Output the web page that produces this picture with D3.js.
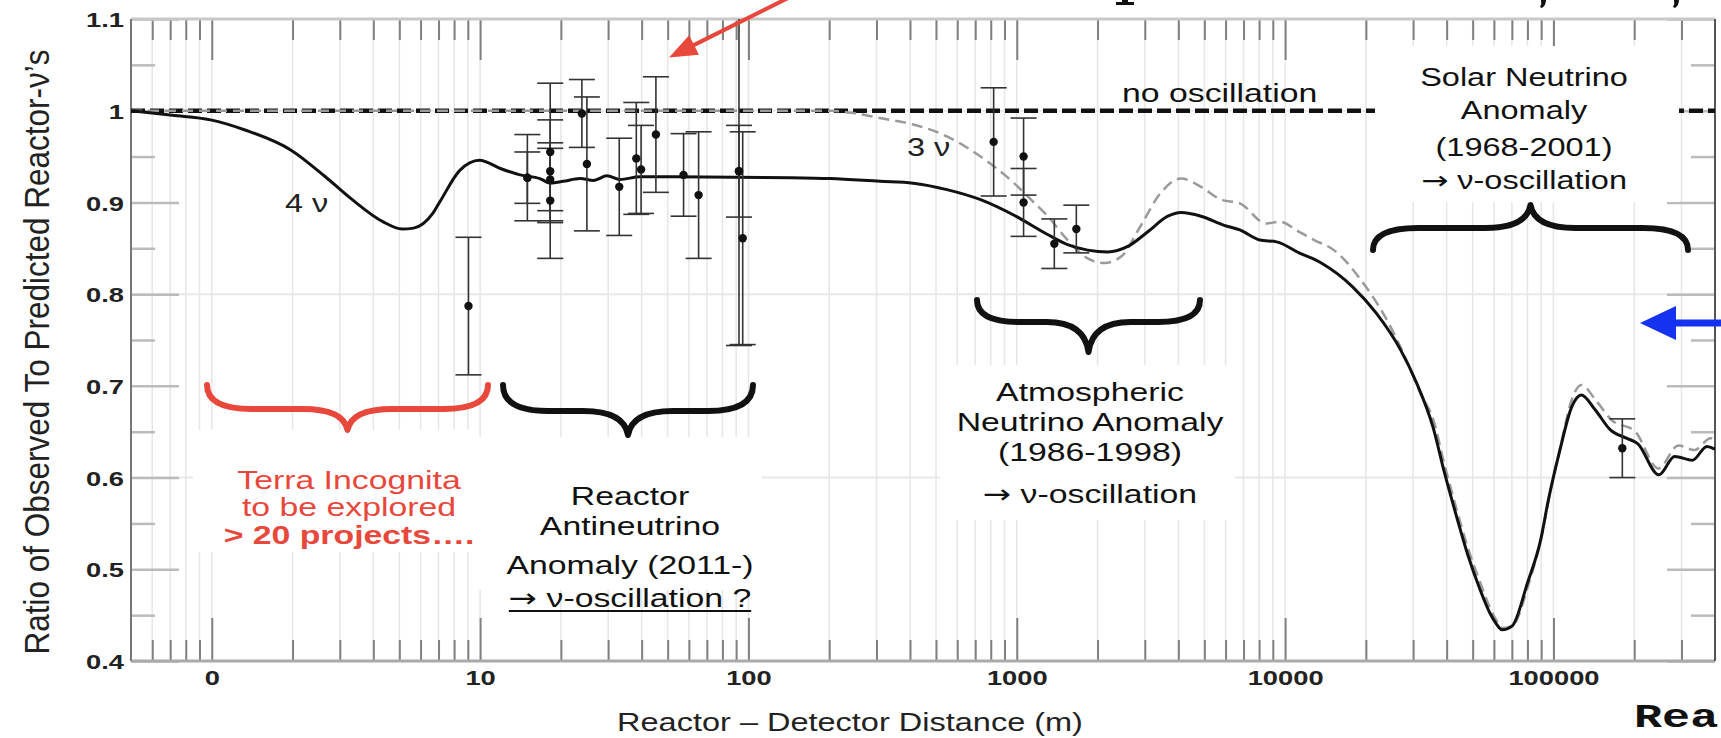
<!DOCTYPE html>
<html><head><meta charset="utf-8">
<script src="https://cdn.jsdelivr.net/npm/d3@7"></script>
<style>html,body{margin:0;padding:0;background:#fff;overflow:hidden}</style>
</head><body><svg id="c" width="1721" height="738"></svg>
<script>
// ---------------- data ----------------
const xTickValues = [1, 10, 100, 1000, 10000, 100000];
const xTickLabels = ["0", "10", "100", "1000", "10000", "100000"];
const yTickValues = [0.4, 0.5, 0.6, 0.7, 0.8, 0.9, 1.0, 1.1];
const yTickLabels = ["0.4", "0.5", "0.6", "0.7", "0.8", "0.9", "1", "1.1"];

// 4-neutrino (solid) curve
const curve4Dist = [0.5, 0.713, 0.99, 1.33, 1.975, 2.65, 3.34, 4.34, 5.12, 5.65, 6.66, 7.09, 8.4, 9.95, 11.9, 14.1, 16.7, 18.3, 20.4, 23.6, 26.5, 29.7, 33.2, 39.5, 52.6, 143, 202, 309, 411, 549, 733, 977, 1303, 1546, 1837, 2183, 2592, 3078, 3655, 4091, 4860, 5930, 6780, 8050, 9300, 11270, 13640, 17850, 21900, 26970, 30920, 35580, 39280, 43500, 48040, 53260, 58020, 61090, 64340, 70100, 80000, 89600, 95800, 105700, 117000, 127000, 143000, 163000, 187000, 206000, 247000, 283000, 330000, 373000, 406000];
const curve4Ratio = [1.0, 0.995, 0.990, 0.979, 0.957, 0.928, 0.903, 0.879, 0.871, 0.872, 0.888, 0.901, 0.935, 0.946, 0.937, 0.930, 0.926, 0.921, 0.923, 0.926, 0.924, 0.929, 0.925, 0.928, 0.928, 0.927, 0.926, 0.923, 0.921, 0.914, 0.903, 0.886, 0.865, 0.854, 0.848, 0.846, 0.852, 0.868, 0.885, 0.889, 0.885, 0.875, 0.870, 0.859, 0.857, 0.845, 0.834, 0.808, 0.779, 0.739, 0.703, 0.655, 0.605, 0.558, 0.515, 0.478, 0.452, 0.441, 0.434, 0.438, 0.485, 0.532, 0.576, 0.630, 0.677, 0.690, 0.674, 0.652, 0.643, 0.637, 0.603, 0.623, 0.619, 0.634, 0.630];

// 3-neutrino (grey dashed) curve
const curve3Dist = [0.5, 202, 250, 309, 411, 549, 733, 977, 1130, 1303, 1546, 1837, 2120, 2450, 2890, 3430, 4091, 4860, 5770, 6780, 8520, 9540, 11270, 12840, 15210, 19220, 23620, 28050, 32200, 35580, 39280, 43500, 48040, 53260, 58020, 61090, 64340, 70100, 81400, 90200, 96600, 106200, 117700, 127100, 143300, 164400, 201900, 246000, 292300, 335300, 384900, 405400];
const curve3Ratio = [1.0, 1.0, 0.997, 0.992, 0.985, 0.972, 0.950, 0.921, 0.903, 0.885, 0.859, 0.839, 0.834, 0.841, 0.874, 0.910, 0.926, 0.917, 0.903, 0.899, 0.877, 0.879, 0.868, 0.859, 0.848, 0.815, 0.775, 0.731, 0.690, 0.664, 0.614, 0.566, 0.523, 0.486, 0.458, 0.445, 0.436, 0.438, 0.487, 0.535, 0.580, 0.634, 0.687, 0.701, 0.685, 0.663, 0.650, 0.610, 0.635, 0.630, 0.643, 0.640];

// no oscillation line
const noOscDist = [0.5, 400000];
const noOscRatio = [1.0, 1.0];

// measurements
const dataDist  = [9.05, 15.0, 15.0, 18.25, 18.25, 18.25, 18.25, 23.95, 25.0, 33.0, 38.2, 39.8, 45.2, 57.3, 65.2, 92.2, 92.2, 95.2, 820, 1060, 1060, 1380, 1667, 180600];
const dataRatio = [0.787, 0.927, 0.927, 0.955, 0.934, 0.925, 0.902, 0.997, 0.942, 0.917, 0.948, 0.936, 0.974, 0.930, 0.908, 0.934, 0.934, 0.861, 0.966, 0.950, 0.900, 0.855, 0.871, 0.632];
const dataErr   = [0.075, 0.047, 0.028, 0.075, 0.056, 0.034, 0.063, 0.037, 0.073, 0.053, 0.061, 0.048, 0.063, 0.045, 0.069, 0.050, 0.190, 0.116, 0.059, 0.042, 0.037, 0.027, 0.026, 0.032];

// annotations
const terraLines = ["Terra Incognita", "to be explored", "> 20 projects…."];
const reactorLines = ["Reactor", "Antineutrino", "Anomaly (2011-)", "→ ν-oscillation ?"];
const atmLines = ["Atmospheric", "Neutrino Anomaly", "(1986-1998)", "→ ν-oscillation"];
const solarLines = ["Solar Neutrino", "Anomaly", "(1968-2001)", "→ ν-oscillation"];

// ---------------- drawing ----------------
const W = 1721, H = 738, SX = 1.3;
const M = {left: 131, right: 1715, top: 19, bottom: 661};
const x = d3.scaleLog().domain([0.5, 4e5]).range([M.left, M.right]);
const y = d3.scaleLinear().domain([0.4, 1.1]).range([M.bottom, M.top]);
const FONT = "'Liberation Sans', Arial, Helvetica, sans-serif";

const svg = d3.select('#c');
svg.append('rect').attr('width', W).attr('height', H).attr('fill', '#fff');
svg.append('defs').append('clipPath').attr('id', 'pc').append('rect')
  .attr('x', M.left).attr('y', M.top).attr('width', M.right - M.left).attr('height', M.bottom - M.top);

// grid values
const allX = [];
for (let e = -1; e <= 5; e++) for (let m = 1; m <= 9; m++) {
  const v = m * Math.pow(10, e);
  if (v > 0.5001 && v < 399999) allX.push(v);
}
const isMajor = v => Math.abs(Math.log10(v) - Math.round(Math.log10(v))) < 1e-6;
const minorX = allX.filter(v => !isMajor(v));

const grid = svg.append('g');
grid.selectAll('line.gx').data(allX).join('line')
  .attr('x1', d => x(d)).attr('x2', d => x(d)).attr('y1', M.top).attr('y2', M.bottom)
  .attr('stroke', '#e6e6e6').attr('stroke-width', 1.5);
grid.selectAll('line.gy').data([0.6, 0.8, 1.0]).join('line')
  .attr('x1', M.left).attr('x2', M.right).attr('y1', d => y(d)).attr('y2', d => y(d))
  .attr('stroke', '#e8e8e8').attr('stroke-width', 2);

// axes
function styleAxis(g, col, w) {
  g.select('.domain').remove();
  g.selectAll('.tick line').attr('stroke', col).attr('stroke-width', w);
}
const xb = svg.append('g').attr('transform', `translate(0,${M.bottom})`)
  .call(d3.axisTop(x).tickValues(minorX).tickSize(21).tickFormat(''));
styleAxis(xb, '#808080', 2);
const xbM = svg.append('g').attr('transform', `translate(0,${M.bottom})`)
  .call(d3.axisTop(x).tickValues(xTickValues).tickSize(43).tickFormat(''));
styleAxis(xbM, '#808080', 2);
const xt = svg.append('g').attr('transform', `translate(0,${M.top})`)
  .call(d3.axisBottom(x).tickValues(minorX).tickSize(21).tickFormat(''));
styleAxis(xt, '#808080', 2);
const xtM = svg.append('g').attr('transform', `translate(0,${M.top})`)
  .call(d3.axisBottom(x).tickValues(xTickValues).tickSize(41).tickFormat(''));
styleAxis(xtM, '#808080', 2);

const yMinor = [0.45, 0.55, 0.65, 0.75, 0.85, 0.95, 1.05];
const yl = svg.append('g').attr('transform', `translate(${M.left},0)`)
  .call(d3.axisRight(y).tickValues(yMinor).tickSize(24).tickFormat(''));
styleAxis(yl, '#bbb', 2.5);
const ylM = svg.append('g').attr('transform', `translate(${M.left},0)`)
  .call(d3.axisRight(y).tickValues(yTickValues).tickSize(48).tickFormat(''));
styleAxis(ylM, '#bbb', 2.5);
const yr = svg.append('g').attr('transform', `translate(${M.right},0)`)
  .call(d3.axisLeft(y).tickValues(yMinor).tickSize(24).tickFormat(''));
styleAxis(yr, '#bbb', 2.5);
const yrM = svg.append('g').attr('transform', `translate(${M.right},0)`)
  .call(d3.axisLeft(y).tickValues(yTickValues).tickSize(48).tickFormat(''));
styleAxis(yrM, '#bbb', 2.5);

// tick labels via axes
const xLab = svg.append('g').attr('transform', `translate(0,${M.bottom})`)
  .call(d3.axisBottom(x).tickValues(xTickValues).tickSize(0)
    .tickFormat((d, i) => xTickLabels[i]));
xLab.select('.domain').remove();
xLab.selectAll('text').attr('y', 0).attr('dy', 0)
  .attr('transform', `translate(0,24) scale(${SX},1)`)
  .attr('font-family', FONT).attr('font-weight', 'bold').attr('font-size', 21).attr('fill', '#222');

const yLab = svg.append('g').attr('transform', `translate(${M.left},0)`)
  .call(d3.axisLeft(y).tickValues(yTickValues).tickSize(0)
    .tickFormat((d, i) => yTickLabels[i]));
yLab.select('.domain').remove();
yLab.selectAll('text').attr('x', 0).attr('dy', '0.36em')
  .attr('transform', `translate(-7,0) scale(${SX},1)`)
  .attr('font-family', FONT).attr('font-weight', 'bold').attr('font-size', 21).attr('fill', '#222');

// frame
const fr = svg.append('g');
fr.append('line').attr('x1', M.left).attr('x2', M.right).attr('y1', M.top).attr('y2', M.top).attr('stroke', '#c8c8c8').attr('stroke-width', 3);
fr.append('line').attr('x1', M.left).attr('x2', M.right).attr('y1', M.bottom).attr('y2', M.bottom).attr('stroke', '#aaa').attr('stroke-width', 3);
fr.append('line').attr('x1', M.left).attr('x2', M.left).attr('y1', M.top).attr('y2', M.bottom).attr('stroke', '#777').attr('stroke-width', 2);
fr.append('line').attr('x1', M.right).attr('x2', M.right).attr('y1', M.top).attr('y2', M.bottom).attr('stroke', '#555').attr('stroke-width', 2);

// curves
const plot = svg.append('g').attr('clip-path', 'url(#pc)');
const line = d3.line().x(d => x(d[0])).y(d => y(d[1])).curve(d3.curveMonotoneX);
plot.append('path').datum(noOscDist.map((d, i) => [d, noOscRatio[i]]))
  .attr('d', line).attr('fill', 'none').attr('stroke', '#111').attr('stroke-width', 4.5).attr('stroke-dasharray', '14,5');
plot.append('path').datum(curve3Dist.map((d, i) => [d, curve3Ratio[i]]))
  .attr('d', line).attr('fill', 'none').attr('stroke', '#9a9a9a').attr('stroke-width', 2.5).attr('stroke-dasharray', '11,6');
plot.append('path').datum(curve4Dist.map((d, i) => [d, curve4Ratio[i]]))
  .attr('d', line).attr('fill', 'none').attr('stroke', '#111').attr('stroke-width', 3);

// data with error bars
const pts = dataDist.map((d, i) => ({d, r: dataRatio[i], e: dataErr[i]}));
const eg = plot.append('g').attr('stroke', '#333').attr('stroke-width', 1.6);
eg.selectAll('line.v').data(pts).join('line')
  .attr('x1', p => x(p.d)).attr('x2', p => x(p.d))
  .attr('y1', p => y(p.r + p.e)).attr('y2', p => y(p.r - p.e));
eg.selectAll('line.t').data(pts).join('line')
  .attr('x1', p => x(p.d) - 13).attr('x2', p => x(p.d) + 13)
  .attr('y1', p => y(p.r + p.e)).attr('y2', p => y(p.r + p.e));
eg.selectAll('line.b').data(pts).join('line')
  .attr('x1', p => x(p.d) - 13).attr('x2', p => x(p.d) + 13)
  .attr('y1', p => y(p.r - p.e)).attr('y2', p => y(p.r - p.e));
plot.append('g').selectAll('circle').data(pts).join('circle')
  .attr('cx', p => x(p.d)).attr('cy', p => y(p.r)).attr('r', 4.2).attr('fill', '#111');

// white annotation boxes (cover the grid)
const boxes = [[193, 430, 282, 122], [475, 437, 287, 153], [940, 365, 295, 155], [1375, 46, 304, 156]];
svg.append('g').selectAll('rect').data(boxes).join('rect')
  .attr('x', b => b[0]).attr('y', b => b[1]).attr('width', b => b[2]).attr('height', b => b[3]).attr('fill', '#fff');

// braces
function brace(x0, x1, yEnd, yMid, yTip, r) {
  const xc = (x0 + x1) / 2;
  return `M${x0},${yEnd} Q${x0},${yMid} ${x0 + r},${yMid} L${xc - r},${yMid} Q${xc - 4},${yMid} ${xc},${yTip}` +
         ` Q${xc + 4},${yMid} ${xc + r},${yMid} L${x1 - r},${yMid} Q${x1},${yMid} ${x1},${yEnd}`;
}
const braces = [
  {b: [207, 488, 385, 409, 430, 45], c: '#e8473b'},
  {b: [503, 753, 385, 411, 435, 45], c: '#111'},
  {b: [977, 1200, 300, 322, 352, 42], c: '#111'},
  {b: [1373, 1688, 250, 228, 205, 45], c: '#111'}
];
svg.append('g').selectAll('path').data(braces).join('path')
  .attr('d', o => brace(...o.b)).attr('fill', 'none').attr('stroke', o => o.c)
  .attr('stroke-width', 6).attr('stroke-linecap', 'round').attr('stroke-linejoin', 'round');

// text helper (slide is stretched horizontally)
function txt(xp, yp, s, o = {}) {
  const g = svg.append('g').attr('transform', `translate(${xp},${yp}) scale(${o.sx || SX},1)${o.rot ? ' rotate(' + o.rot + ')' : ''}`);
  const t = g.append('text').attr('font-family', o.ff || FONT).attr('font-size', o.fs || 26)
    .attr('font-weight', o.fw || 'normal').attr('fill', o.fill || '#111').attr('text-anchor', o.anchor || 'middle');
  if (s.startsWith('→')) {
    t.append('tspan').attr('font-family', "'DejaVu Sans', sans-serif").text('→');
    t.append('tspan').text(s.slice(1));
  } else t.text(s);
  return t;
}

// axis titles
txt(850, 731, 'Reactor – Detector Distance (m)', {fs: 25, fill: '#222'});
txt(49, 352, 'Ratio of Observed To Predicted Reactor-ν\u2019s', {fs: 31.5, rot: -90, sx: 1.1, fill: '#222'});

// in-plot labels
txt(1122, 102, 'no oscillation', {fs: 26, anchor: 'start'});
txt(907, 156, '3 ν', {fs: 25, anchor: 'start', fill: '#222'});
txt(285, 212, '4 ν', {fs: 25, anchor: 'start', fill: '#222'});

// annotations
const terraY = [489, 516, 544];
terraLines.forEach((s, i) => txt(349, terraY[i], s, {fs: 26, fill: '#e8473b', fw: i === 2 ? 'bold' : 'normal'}));
const reactorY = [505, 535, 574, 607];
reactorLines.forEach((s, i) => {
  const t = txt(630, reactorY[i], s, {fs: 26});
  if (i === 3) {
    const w = t.node().getComputedTextLength();
    d3.select(t.node().parentNode).append('line').attr('x1', -w / 2).attr('x2', w / 2)
      .attr('y1', 4).attr('y2', 4).attr('stroke', '#111').attr('stroke-width', 2);
  }
});
const atmY = [401, 431, 461, 503];
atmLines.forEach((s, i) => txt(1090, atmY[i], s, {fs: 26}));
const solarY = [86, 119, 156, 189];
solarLines.forEach((s, i) => txt(1524, solarY[i], s, {fs: 25}));

// arrows
function arrow(x1, y1, x2, y2, col, w, hl, hw) {
  const dx = x2 - x1, dy = y2 - y1, L = Math.hypot(dx, dy), ux = dx / L, uy = dy / L;
  const bx = x2 - ux * hl, by = y2 - uy * hl, nx = -uy, ny = ux;
  svg.append('line').attr('x1', x1).attr('y1', y1).attr('x2', bx + ux * 2).attr('y2', by + uy * 2)
    .attr('stroke', col).attr('stroke-width', w);
  svg.append('path').attr('d', `M${x2},${y2} L${bx + nx * hw},${by + ny * hw} L${bx - nx * hw},${by - ny * hw} Z`).attr('fill', col);
}
arrow(792, -4, 669, 57.5, '#e8473b', 4, 28, 11);
arrow(1730, 323, 1640, 323, '#1432f0', 7, 36, 17);

// cropped bits of slide title above the chart (glyph bottoms only)
const frag = svg.append('g').attr('fill', '#111');
frag.append('path').attr('d', 'M1122,0 h6 v2 h6 v3 h-18 v-3 h6 Z');
frag.append('path').attr('d', 'M1541,0 h5 q0,5 -4,8 l-2,-1 q2,-3 1,-7 Z');
frag.append('path').attr('d', 'M1674,0 h5 q0,5 -4,8 l-2,-1 q2,-3 1,-7 Z');

// slide text fragment at bottom right
txt(1634, 727, 'Rea', {ff: "'Liberation Mono', 'DejaVu Sans Mono', monospace", fs: 33, fw: 'bold', anchor: 'start', fill: '#111', sx: 1.42});
</script></body></html>
